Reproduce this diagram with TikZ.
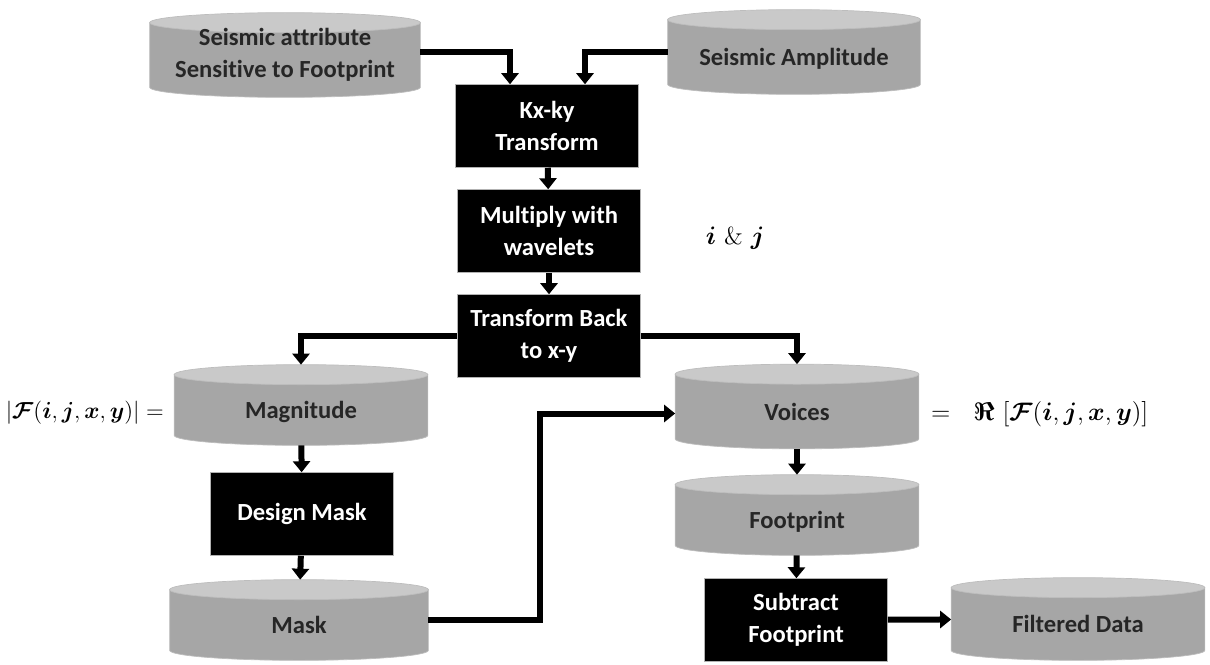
\documentclass[tikz,border=0pt]{standalone}
\usepackage{fontspec}
\usepackage{amsmath}
\usepackage{bm}
\newfontfamily\labelfont[Ligatures=NoCommon]{Carlito}
\usepackage{tikz}
\usetikzlibrary{calc}
\usetikzlibrary{arrows.meta}
\usetikzlibrary{backgrounds}

\definecolor{drumside}{HTML}{A6A6A6}
\definecolor{drumtop}{HTML}{C9C9C9}
\definecolor{drumedge}{HTML}{BDBDBD}

\def\ry{0.2cm}

% gray barrel drawn behind a named node
\newcommand\drumbody[1]{%
  \path[fill=drumside,draw=drumedge,line width=0.4pt]
    let \p1=(#1.north west), \p2=(#1.south east), \n1={(\x2-\x1)/2} in
    (\x1,\y1-\ry) -- (\x1,\y2+\ry) arc[start angle=180,end angle=360,x radius=\n1,y radius=\ry]
    -- (\x2,\y1-\ry) -- cycle;
  \path[fill=drumtop,draw=drumedge,line width=0.4pt]
    let \p1=(#1.north west), \p2=(#1.south east), \n1={(\x2-\x1)/2} in
    (\x1+\n1,\y1-\ry) ellipse[x radius=\n1,y radius=\ry];
}

\tikzset{
  drum/.style={rectangle,minimum height=1.68cm,inner sep=0pt,align=center,
    font=\labelfont\bfseries\fontsize{14}{18}\selectfont,text=black!85},
  low text/.style={text height=0.6cm,text depth=0.06cm},
  step box/.style={rectangle,fill=black,draw=gray!60,line width=0.3pt,text=white,
    minimum width=3.66cm,minimum height=1.66cm,align=center,inner sep=0pt,
    font=\labelfont\bfseries\fontsize{14}{18}\selectfont},
  flow/.style={line width=0.12cm,-{Triangle[width=0.34cm,length=0.22cm]}},
  formula/.style={inner sep=0pt,font=\fontsize{14}{17}\selectfont}
}

\begin{document}
\begin{tikzpicture}
\useasboundingbox (0,0) rectangle (24.2,-13.28);

\node[drum,minimum width=5.4cm]  (attr)   at (5.7,-1.1)    {Seismic attribute\\Sensitive to Footprint};
\node[drum,low text,minimum width=5.04cm] (ampl)   at (15.88,-1.04) {Seismic Amplitude};
\node[step box] (kxky)  at (10.94,-2.52) {Kx-ky\\Transform};
\node[step box] (mult)  at (10.98,-4.62) {Multiply with\\wavelets};
\node[step box] (back)  at (10.98,-6.72) {Transform Back\\to x-y};
\node[formula]  (ij)    at (14.7,-4.76) {$\bm{i}$ \& $\bm{j}$};

\node[drum,low text,minimum width=5.06cm,minimum height=1.6cm] (magn)   at (6.02,-8.1)   {Magnitude};
\node[drum,low text,minimum width=4.86cm] (voices) at (15.94,-8.13) {Voices};
\node[step box] (design) at (6.04,-10.28) {Design Mask};
\node[drum,low text,minimum width=5.16cm,minimum height=1.6cm] (mask)   at (5.98,-12.4)  {Mask};
\node[drum,low text,minimum width=4.86cm,minimum height=1.6cm] (foot)   at (15.94,-10.3) {Footprint};
\node[step box] (subtr) at (15.92,-12.4) {Subtract\\Footprint};
\node[drum,low text,minimum width=5.06cm,minimum height=1.64cm] (filt)   at (21.56,-12.38) {Filtered Data};

\node[formula,anchor=east,font=\fontsize{13}{16}\selectfont] (absf) at ($(magn.west)+(-0.2,-0.16)$)
  {\scalebox{1.1}{$|\bm{\mathcal{F}}(\bm{i},\bm{j},\bm{x},\bm{y})| =$}};
\node[formula,anchor=west] (realf) at ($(voices.east)+(0.24,-0.16)$)
  {$=\ \ \bm{\Re}\ [\bm{\mathcal{F}}(\bm{i},\bm{j},\bm{x},\bm{y})]$};

\begin{scope}[on background layer]
\foreach \dr in {attr,ampl,magn,voices,mask,foot,filt} {\drumbody{\dr}}
\end{scope}

\draw[flow] ($(attr.east)+(0,0.06)$) -| ($(kxky.north)+(-0.74,0)$);
\draw[flow] (ampl.west) -| ($(kxky.north)+(0.76,0)$);
\draw[flow] (kxky) -- (mult);
\draw[flow] (mult) -- (back);
\draw[flow] (back.west) -| (magn.north);
\draw[flow] (back.east) -| (voices.north);
\draw[flow] (magn) -- (design);
\draw[flow] (design) -- (mask);
\draw[flow] (mask.east) -- ++(2.24,0) |- ($(voices.west)+(0,-0.14)$);
\draw[flow] (voices) -- (foot);
\draw[flow] (foot) -- (subtr);
\draw[flow] (subtr) -- (filt);

\end{tikzpicture}
\end{document}
